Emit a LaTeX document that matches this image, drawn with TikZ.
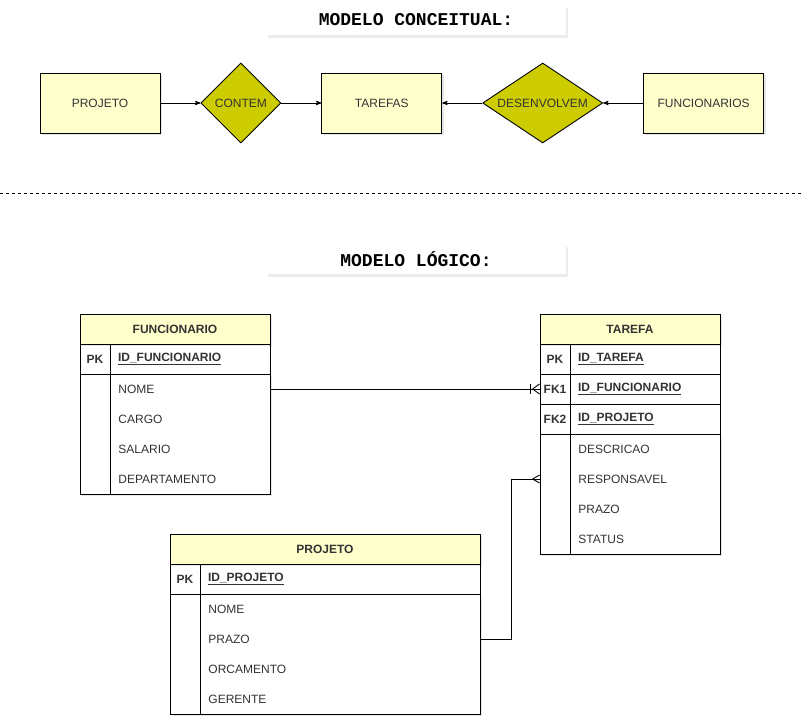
\documentclass[tikz,border=0pt]{standalone}
\usepackage{fontspec}
\setmainfont{Liberation Sans}
\setmonofont{Liberation Mono}
\usetikzlibrary{arrows,positioning,shapes.geometric,shadows}

\definecolor{paleyellow}{HTML}{FFFFCC}
\definecolor{relfill}{HTML}{CCCC00}
\definecolor{inkgray}{HTML}{333333}

\begin{document}
\begin{tikzpicture}[x=1pt,y=-1pt,>=stealth',line width=0.9pt,
                    font=\fontsize{12}{14}\selectfont,text=inkgray]

  \tikzstyle{softshadow}=[drop shadow={shadow xshift=2pt,shadow yshift=-2pt,opacity=0.2}]
  \tikzstyle{title}=[fill=white,minimum width=300,minimum height=30,
                     font=\fontsize{18}{20}\selectfont\ttfamily\bfseries,text=black,
                     drop shadow={shadow xshift=2pt,shadow yshift=-3pt,opacity=0.15}]
  \tikzstyle{entity}=[draw,fill=paleyellow,minimum width=120,minimum height=60,softshadow]
  \tikzstyle{relation}=[draw,diamond,fill=relfill,inner sep=0pt,minimum height=80]
  \tikzstyle{hdr}=[draw,fill=paleyellow,minimum height=30,font=\fontsize{12}{14}\selectfont\bfseries,softshadow]
  \tikzstyle{keycell}=[draw,minimum width=30,minimum height=30,inner sep=0pt,
                       font=\fontsize{12}{14}\selectfont\bfseries]
  \tikzstyle{keyrow}=[draw,minimum height=30,inner xsep=8pt,align=left,
                      font=\fontsize{12}{14}\selectfont\bfseries]
  \tikzstyle{body}=[draw,fill=white,softshadow]
  \tikzstyle{attr}=[anchor=west,inner sep=0pt]

  \useasboundingbox (0,0) rectangle (802,722);

  % modelo conceitual
  \node[title] (tConc) at (416,20) {MODELO CONCEITUAL:};

  \node[entity]                                        (projC)  at (100,103) {PROJETO};
  \node[relation,minimum width=80,right=40pt of projC]            (contem) {CONTEM};
  \node[entity,right=40pt of contem]                              (tarC)   {TAREFAS};
  \node[relation,minimum width=120,aspect=1.5,right=40pt of tarC] (desenv) {DESENVOLVEM};
  \node[entity,right=40pt of desenv]                              (funcC)  {FUNCIONARIOS};

  \path[->] (projC)  edge (contem)
            (contem) edge (tarC)
            (desenv) edge (tarC)
            (funcC)  edge (desenv);

  \draw[dashed,line width=0.7pt] (0,193) -- (802,193);

  % modelo logico
  \node[title] (tLog) at (416,259) {MODELO LÓGICO:};

  % FUNCIONARIO
  \node[body,minimum width=190,minimum height=120] (funcBd) at (175,434) {};
  \node[hdr,minimum width=190]                     (funcHd) at (175,329) {FUNCIONARIO};
  \node[keycell]                                   (funcPk) at (95,359)  {PK};
  \node[keyrow,text width=144]                     (funcId) at (190,359) {\underline{ID\_FUNCIONARIO}};
  \draw (funcPk.south east) -- (funcPk.east |- funcBd.south);
  \node[attr] (funcNome) at (118,389) {NOME};
  \node[attr] (funcCargo) at (118,419) {CARGO};
  \node[attr] (funcSal) at (118,449) {SALARIO};
  \node[attr] (funcDep) at (118,479) {DEPARTAMENTO};

  % TAREFA
  \node[body,minimum width=180,minimum height=120] (tarBd) at (630,494) {};
  \node[hdr,minimum width=180]                     (tarHd) at (630,329) {TAREFA};
  \node[keycell]                                   (tarPk) at (555,359) {PK};
  \node[keyrow,text width=134]                     (tarId) at (645,359) {\underline{ID\_TAREFA}};
  \node[keycell]                                   (tarFk1) at (555,389) {FK1};
  \node[keyrow,text width=134]                     (tarFunc) at (645,389) {\underline{ID\_FUNCIONARIO}};
  \node[keycell]                                   (tarFk2) at (555,419) {FK2};
  \node[keyrow,text width=134]                     (tarProj) at (645,419) {\underline{ID\_PROJETO}};
  \draw (tarFk2.south east) -- (tarFk2.east |- tarBd.south);
  \node[attr] (tarDesc) at (578,449) {DESCRICAO};
  \node[attr] (tarResp) at (578,479) {RESPONSAVEL};
  \node[attr] (tarPrazo) at (578,509) {PRAZO};
  \node[attr] (tarStatus) at (578,539) {STATUS};

  % PROJETO
  \node[body,minimum width=310,minimum height=120] (projBd) at (325,654) {};
  \node[hdr,minimum width=310]                     (projHd) at (325,549) {PROJETO};
  \node[keycell]                                   (projPk) at (185,579) {PK};
  \node[keyrow,text width=264]                     (projId) at (340,579) {\underline{ID\_PROJETO}};
  \draw (projPk.south east) -- (projPk.east |- projBd.south);
  \node[attr] (projNome) at (208,609) {NOME};
  \node[attr] (projPrazo) at (208,639) {PRAZO};
  \node[attr] (projOrc) at (208,669) {ORCAMENTO};
  \node[attr] (projGer) at (208,699) {GERENTE};

  % relacionamentos
  \draw (funcNome -| funcBd.east) -- (tarFk1.west);
  \draw (tarFk1.west) ++(-7,0) -- ++(7,-5) ++(-7,5) -- ++(7,5);
  \draw (tarFk1.west) ++(-9,-5) -- ++(0,10);

  \draw (projPrazo -| projBd.east) -- ++(31,0) |- (tarResp -| tarBd.west);
  \draw (tarResp -| tarBd.west) ++(-7,0) -- ++(7,-4) ++(-7,4) -- ++(7,4);
\end{tikzpicture}
\end{document}
